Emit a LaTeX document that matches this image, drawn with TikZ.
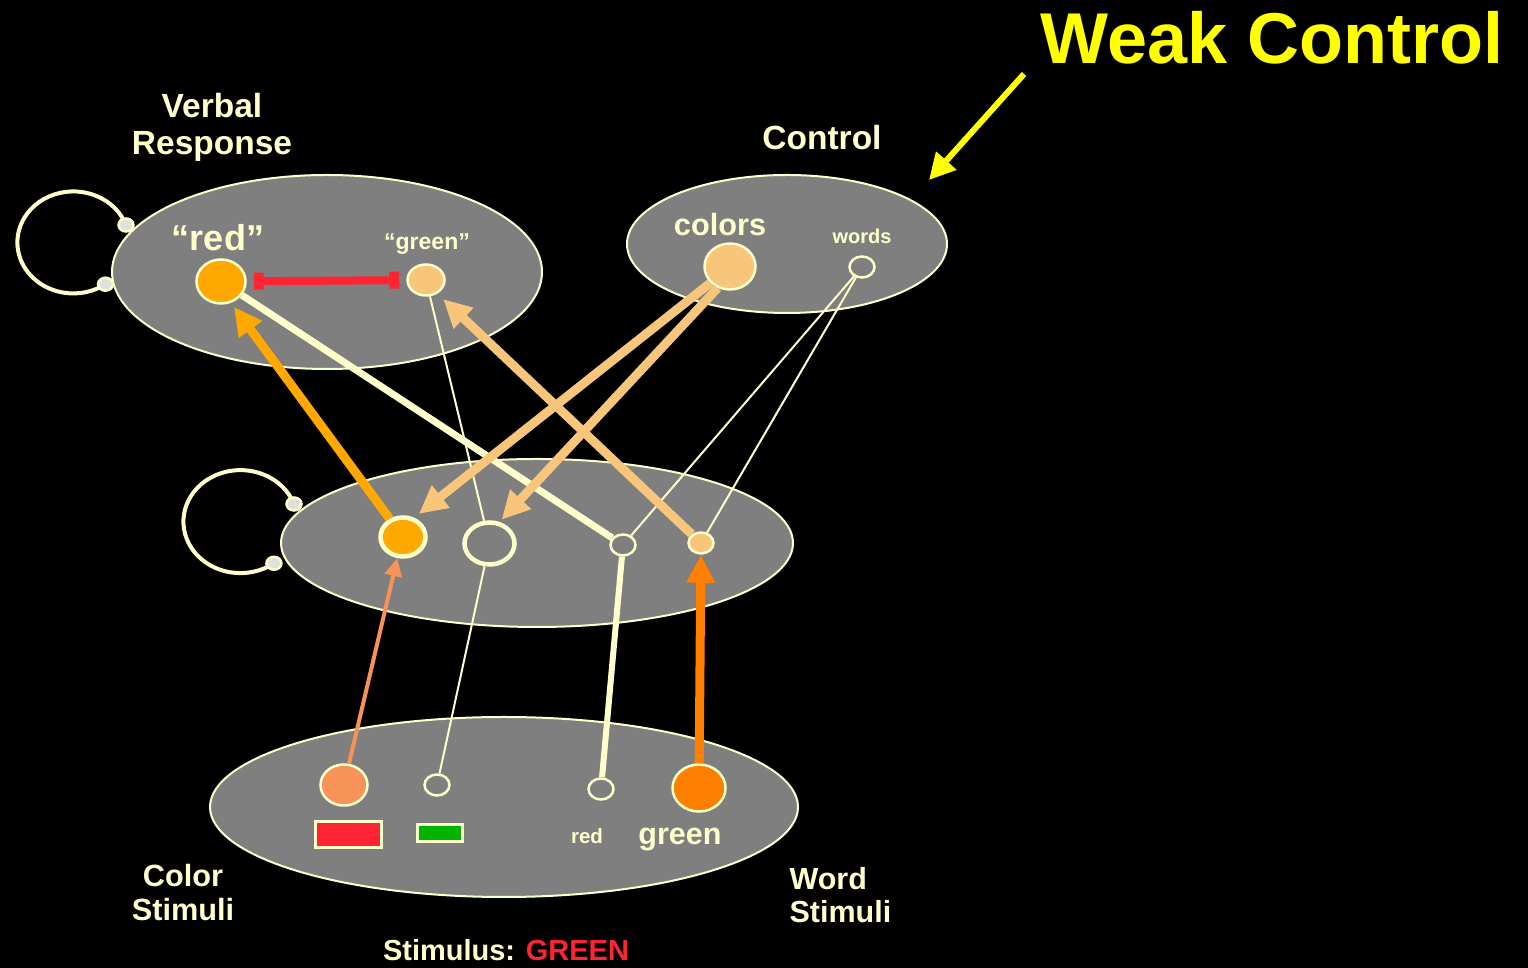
\documentclass[tikz,border=0pt]{standalone}
\usepackage{fontspec}
\setmainfont{Liberation Sans}
\usetikzlibrary{arrows.meta,shapes.geometric,positioning}

\definecolor{cream}{HTML}{FFFFCC}
\definecolor{layergray}{HTML}{7F7F7F}
\definecolor{unitorange}{HTML}{FFA800}
\definecolor{paleorange}{HTML}{F7C67A}
\definecolor{salmon}{HTML}{F79259}
\definecolor{deeporange}{HTML}{FF7F00}
\definecolor{inhibred}{HTML}{FF2433}
\definecolor{swatchgreen}{HTML}{00B400}
\definecolor{endgray}{HTML}{E0E0E0}
\definecolor{pointyellow}{HTML}{FFFF00}

\newcommand{\fs}[2]{\fontsize{#1}{#2}\selectfont\bfseries}

\tikzset{
	layer/.style={draw=cream,line width=2pt,fill=layergray},
	unit/.style args={#1x#2}{ellipse,draw=cream,line width=2.5pt,fill=layergray,inner sep=0pt,minimum width=#1,minimum height=#2},
	swatch/.style={rectangle,draw=cream,line width=2.5pt,inner sep=0pt},
	loopline/.style={draw=cream,line width=4pt},
	loopend/.style={ellipse,draw=cream,line width=2.5pt,fill=endgray,inner sep=0pt,minimum width=15,minimum height=13},
	txt/.style={text=cream,align=center},
	thinlink/.style={draw=cream,line width=2pt},
	pathway/.style={draw=#1,line width=9pt,-{Triangle[length=28pt,width=27pt]}}
}

\begin{document}
\begin{tikzpicture}[x=1pt,y=1pt]
	\fill[black] (0,0) rectangle (1528,968);
	\useasboundingbox (0,0) rectangle (1528,968);

	\begin{scope} % Layers
		\draw[layer] (327,696) ellipse [x radius=215,y radius=97];
		\draw[layer] (787,724) ellipse [x radius=160,y radius=69];
		\draw[layer] (537,425) ellipse [x radius=256,y radius=84];
		\draw[layer] (504,161) ellipse [x radius=294,y radius=90];
	\end{scope}

	\begin{scope} % Recurrent loops
		\coordinate (vrA) at (126,743);
		\draw[loopline] (vrA) arc[start angle=20,end angle=305,x radius=56,y radius=51] coordinate (vrB);
		\node[loopend] (vrEndA) at (vrA) {};
		\node[loopend] (vrEndB) at (vrB) {};
		\coordinate (hdA) at (294,464);
		\draw[loopline] (hdA) arc[start angle=20,end angle=306,x radius=57,y radius=51.5] coordinate (hdB);
		\node[loopend] (hdEndA) at (hdA) {};
		\node[loopend] (hdEndB) at (hdB) {};
	\end{scope}

	\begin{scope} % Units
		\node[unit=49x44,fill=unitorange] (rRed) at (221,686.5) {};
		\node[unit=37x31,fill=paleorange] (rGreen) at (426,688) {};
		\node[unit=51x46,fill=paleorange] (cColors) at (730,701.5) {};
		\node[unit=25x21] (cWords) at (862,701) {};
		\node[unit=45x39,fill=unitorange,line width=4.5pt] (hRed) at (403,431) {};
		\node[unit=50x42,line width=4.5pt] (hGreen) at (489.5,424.5) {};
		\node[unit=25x21] (hWordRed) at (623,423) {};
		\node[unit=25x21,fill=paleorange] (hWordGreen) at (701,425) {};
		\node[unit=47x41,fill=salmon] (sRed) at (344,183) {};
		\node[unit=25x21] (sGreen) at (437,183) {};
		\node[unit=25x21] (sWordRed) at (601,179) {};
		\node[unit=53x47,fill=deeporange] (sWordGreen) at (699,180) {};
		\node[swatch,fill=inhibred,minimum width=66,minimum height=26] (swRed) at (348.5,133.5) {};
		\node[swatch,fill=swatchgreen,minimum width=45,minimum height=17] (swGreen) at (440,135) {};
	\end{scope}

	\begin{scope} % Labels
		\node[txt,font=\fs{33.5}{37}] (respLabel) at (212,841) {Verbal\\Response};
		\node[txt,font=\fs{33.5}{37}] (ctrlLabel) at (822,830) {Control};
		\node[txt,font=\fs{36}{40}] (redLabel) at (218,730) {“red”};
		\node[txt,font=\fs{23}{26}] (greenLabel) at (427,724) {“green”};
		\node[txt,font=\fs{30.7}{34}] (colorsLabel) at (720,743) {colors};
		\node[txt,font=\fs{20}{22}] (wordsLabel) at (862,732) {words};
		\node[txt,font=\fs{20.5}{22}] (redWord) at (587,132) {red};
		\node[txt,font=\fs{30.5}{34}] (greenWord) at (680,128) {green};
		\node[txt,font=\fs{30.7}{34}] (colorStim) at (183,75.5) {Color\\Stimuli};
		\node[txt,font=\fs{30.5}{33},align=left,anchor=west] (wordStim) at (786,73) {Word\\Stimuli};
		\node[txt,font=\fs{29}{32}] (stimLabel) at (506,18) {Stimulus: \textcolor{inhibred}{GREEN}};
		\node[text=pointyellow,font=\fs{72}{80}] (weak) at (1272,930) {Weak Control};
	\end{scope}

	\begin{scope} % Cream links
		\draw[cream,line width=7pt] (rRed) -- (hWordRed);
		\draw[cream,line width=6pt] (hWordRed) -- (sWordRed);
		\draw[thinlink] (rGreen) -- (hGreen);
		\draw[thinlink] (hGreen) -- (sGreen);
		\draw[thinlink] (cWords) -- (hWordRed);
		\draw[thinlink] (cWords) -- (hWordGreen);
	\end{scope}

	\begin{scope} % Pathways
		\draw[pathway=paleorange,shorten >=6pt] (cColors.220) -- (hRed.60);
		\draw[pathway=paleorange,shorten >=3pt] (cColors.240) -- (hGreen.65);
		\draw[pathway=paleorange,shorten >=8pt] (hWordGreen) -- (rGreen.-50);
		\draw[pathway=unitorange,shorten >=5pt] (hRed) -- (rRed.-65);
		\draw[pathway=deeporange] (sWordGreen) -- (hWordGreen);
		\draw[salmon,line width=4pt,-{Triangle[length=18pt,width=17pt]}] (sRed) -- (hRed.-105);
		\draw[inhibred,line width=8pt,{Bar[width=17pt,line width=10pt]}-{Bar[width=17pt,line width=10pt]},shorten <=7pt,shorten >=7pt] (rRed) -- (rGreen);
	\end{scope}

	\coordinate (ptrTail) at (1024,894);
	\coordinate (ptrHead) at (929,788);
	\draw[pointyellow,line width=6pt,-{Triangle[length=26pt,width=26pt]}] (ptrTail) -- (ptrHead);
\end{tikzpicture}
\end{document}
